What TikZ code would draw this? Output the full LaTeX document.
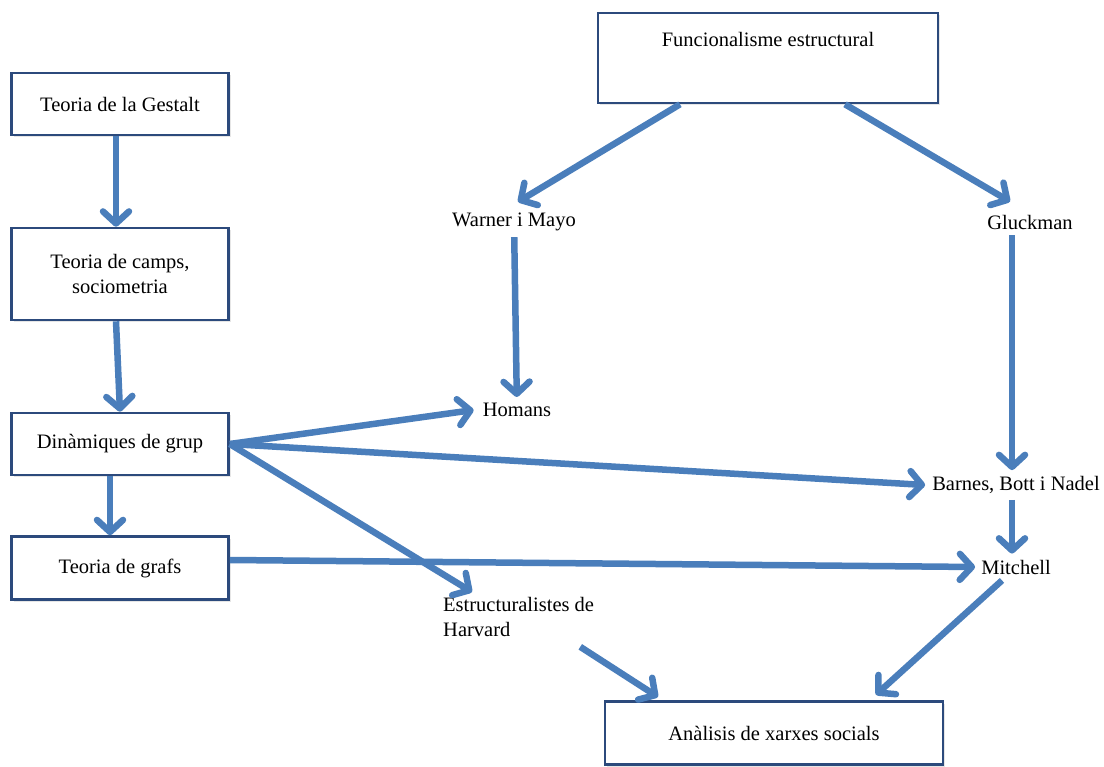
\documentclass[tikz,border=0pt]{standalone}
\usepackage{fontspec}
\setmainfont{Liberation Serif}
\usetikzlibrary{arrows.meta,shadows}
\definecolor{boxline}{HTML}{2C4A7C}
\definecolor{flowblue}{HTML}{4A7EBB}
\tikzset{
  box/.style={draw=boxline,fill=white,line width=2.6pt,minimum width=217pt,align=center,
    font=\fontsize{20.5}{25}\selectfont,
    drop shadow={opacity=0.2,shadow xshift=2pt,shadow yshift=-2pt}},
  lbl/.style={font=\fontsize{20.5}{25}\selectfont,inner sep=6pt},
  flow/.style={draw=flowblue,line width=6.5pt,line join=round,
    -{Straight Barb[length=12pt,width=26pt,line join=round,line cap=round]}}
}
\begin{document}
\begin{tikzpicture}[x=1pt,y=-1pt]
\useasboundingbox (0,0) rectangle (1104,767);

\node[box,minimum height=62pt] (gestalt) at (120,104) {Teoria de la Gestalt};
\node[box,minimum height=92pt] (camps) at (120,274) {Teoria de camps,\\sociometria};
\node[box,minimum height=62pt] (dingrup) at (120,444) {Dinàmiques de grup};
\node[box,minimum height=63pt] (grafs) at (120,568) {Teoria de grafs};

\node[box,minimum width=340pt,minimum height=90pt,text depth=38pt] (funcional) at (768,58) {Funcionalisme estructural};
\node[box,minimum width=338pt,minimum height=63pt] (analisi) at (774,733) {Anàlisis de xarxes socials};

\node[lbl] (warner) at (514,222) {Warner i Mayo};
\node[lbl] (gluck) at (1030,222) {Gluckman};
\node[lbl] (homans) at (517,410) {Homans};
\node[lbl] (barnes) at (1016,485) {Barnes, Bott i Nadel};
\node[lbl] (mitchell) at (1016,567) {Mitchell};
\node[lbl,align=left,anchor=north west] (harvard) at (437,591) {Estructuralistes de\\Harvard};

\draw[flow] ([xshift=-4]gestalt.south) -- ([xshift=-4]camps.north);
\draw[flow] ([xshift=-4]camps.south) -- (dingrup.north);
\draw[flow] ([xshift=-10]dingrup.south) -- ([xshift=-10]grafs.north);

\draw[flow] ([xshift=-88]funcional.south) -- ([xshift=4,yshift=5]warner.north);
\draw[flow] ([xshift=77]funcional.south) -- ([xshift=-20,yshift=7]gluck.north);
\draw[flow] (warner) -- (homans);
\draw[flow] ([xshift=-18]gluck.south) -- ([xshift=-4]barnes.north);
\draw[flow] ([xshift=-4]barnes.south) -- ([xshift=-4]mitchell.north);

\draw[flow] (dingrup.east) -- ([xshift=-3]homans.west);
\draw[flow] (dingrup.east) -- ([xshift=-1]barnes.west);
\draw[flow] (dingrup.east) -- ([xshift=35,yshift=-1]harvard.north west);
\draw[flow] ([yshift=8]grafs.east) -- (mitchell.west);

\draw[flow,shorten >=8pt] ([xshift=-14]mitchell.south) -- ([xshift=96]analisi.north);
\draw[flow,shorten >=6pt] ([xshift=-20,yshift=-4]harvard.south east) -- ([xshift=-111]analisi.north);
\end{tikzpicture}
\end{document}
